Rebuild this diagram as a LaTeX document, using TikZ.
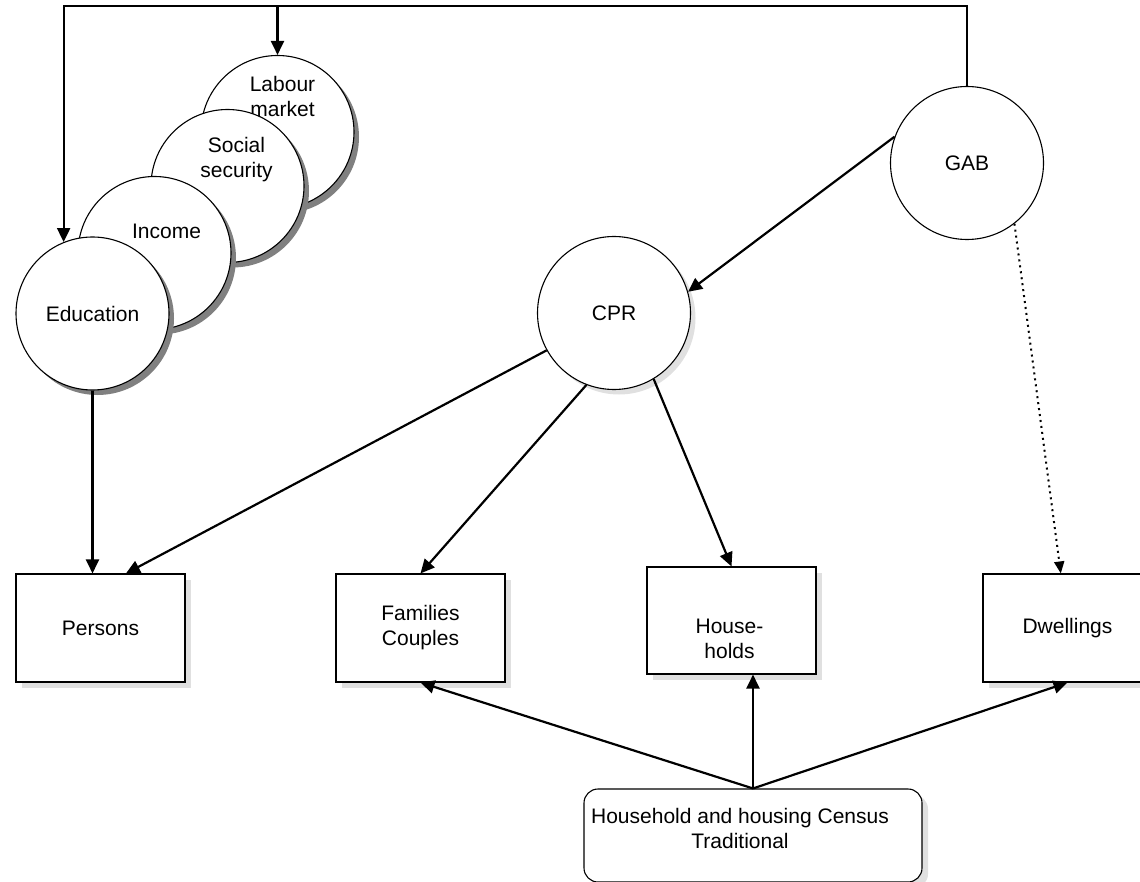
\documentclass[tikz,border=0pt]{standalone}
\usepackage{fontspec}
\setmainfont{Liberation Sans}
\usetikzlibrary{shadows,arrows.meta}

\tikzset{
  bubble/.style={circle,draw,fill=white,line width=1.1pt,minimum size=153pt,inner sep=0pt},
  stacked/.style={bubble,drop shadow={shadow xshift=5pt,shadow yshift=-5pt,fill=black!50,opacity=1}},
  register/.style={bubble,drop shadow={shadow xshift=5pt,shadow yshift=-5pt,fill=black!12,opacity=1}},
  recbox/.style={draw,fill=white,line width=1.1pt,minimum width=169pt,minimum height=108pt,align=center,
    drop shadow={shadow xshift=6pt,shadow yshift=-6pt,fill=black!12,opacity=1}},
  census/.style={recbox,rounded corners=14pt,minimum width=338pt,minimum height=93pt},
  feed/.style={line width=2.2pt,-{Triangle[length=14pt,width=13pt]}},
  dots/.style={line width=2pt,dash pattern=on 2pt off 4pt,-{Triangle[length=12pt,width=10pt]}}
}

\begin{document}
\begin{tikzpicture}[x=1pt,y=-1pt,font=\fontsize{21}{25}\selectfont]
  \useasboundingbox (0,0) rectangle (1140,882);
  % registers, back to front
  \node[stacked,label={[name=labtxt,align=center,xshift=5pt,yshift=36pt]center:Labour\\market}] (labour) at (277.5,132) {};
  \node[stacked,label={[name=soctxt,align=center,xshift=9pt,yshift=26pt]center:Social\\security}] (social) at (227.5,186) {};
  \node[stacked,label={[name=inctxt,xshift=12pt,yshift=22pt]center:Income}] (income) at (154.5,253) {};
  \node[stacked] (edu) at (92.5,313.5) {Education};
  \node[bubble] (gab) at (967,163) {GAB};
  \node[register] (cpr) at (614,313) {CPR};
  % statistics
  \node[recbox] (persons) at (100.5,628) {Persons};
  \node[recbox] (families) at (420.5,628) {Families\\Couples};
  \node[recbox,minimum height=107pt,label={[name=hhtxt,align=center,xshift=-2pt,yshift=-18pt]center:House-\\holds}] (households) at (731.5,620.5) {};
  \node[recbox] (dwellings) at (1067.5,628) {Dwellings};
  \node[census,label={[name=centxt,align=center,xshift=-13pt,yshift=7.5pt]center:Household and housing Census\\Traditional}] (census) at (753,835.5) {};
  % connectors
  \coordinate (rail) at (0,6);
  \draw[feed] (gab.north) |- (edu.112 |- rail) -- (edu.112);
  \draw[feed] (labour.north |- rail) -- (labour.north);
  \draw[feed] (gab.160) -- (cpr.16);
  \draw[dots] (gab.308) -- (dwellings.97);
  \draw[feed] (cpr.209) -- (persons.65);
  \draw[feed] (cpr.249) -- (families.north);
  \draw[feed] (cpr.301) -- (households.north);
  \draw[feed] (edu.south) -- (edu.south |- persons.north);
  \draw[feed] (census.north) -- (families.south);
  \draw[feed] (census.north) -- (census.north |- households.south);
  \draw[feed] (census.north) -- (dwellings.south);
\end{tikzpicture}
\end{document}
